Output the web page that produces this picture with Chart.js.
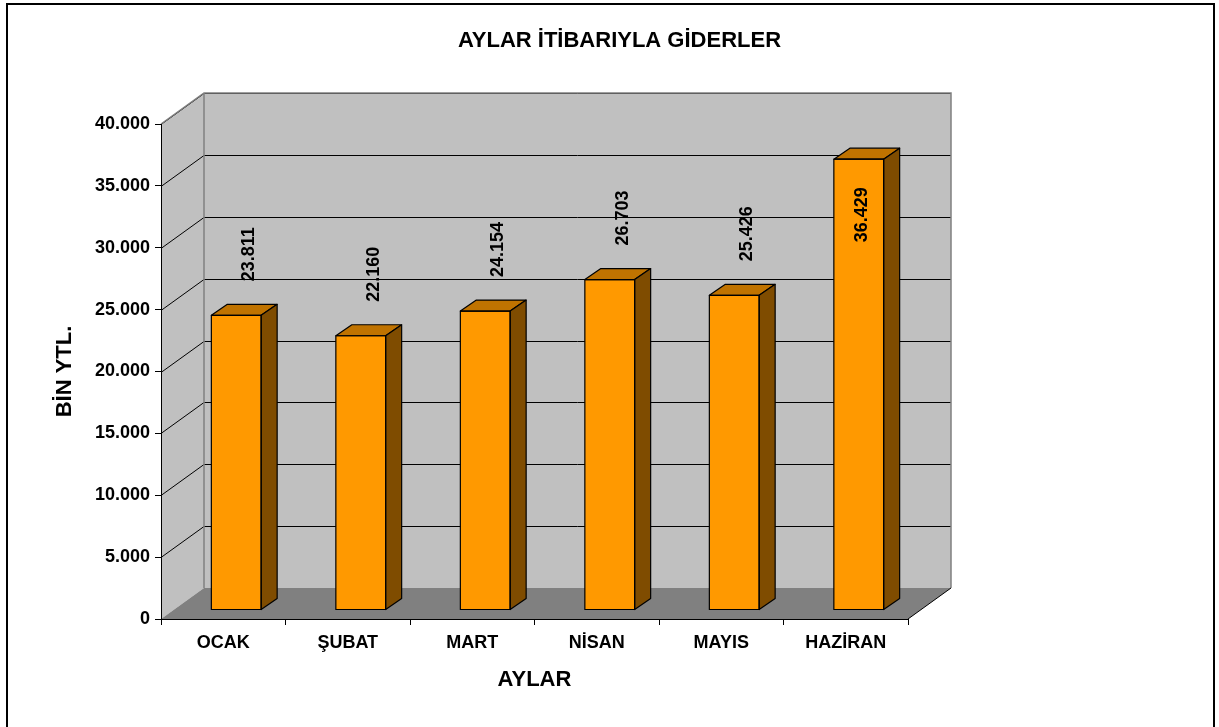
<!DOCTYPE html>
<html lang="tr">
<head>
<meta charset="utf-8">
<title>Aylar İtibarıyla Giderler</title>
<script src="https://cdn.jsdelivr.net/npm/chart.js@4.4.0/dist/chart.umd.min.js"></script>
<style>
  html, body { margin: 0; padding: 0; background: #fff; }
  canvas { display: block; }
</style>
</head>
<body>
<canvas id="chartGider" width="1219" height="727"></canvas>
<script>
// ====== Veri ======
const aylar = ['OCAK', 'ŞUBAT', 'MART', 'NİSAN', 'MAYIS', 'HAZİRAN'];
const giderler = [23811, 22160, 24154, 26703, 25426, 36429];
const eksenMin = 0;
const eksenMax = 40000;
const eksenAdim = 5000;

// ====== Gorunum ======
const FONT = 'Arial, "Liberation Sans", sans-serif';
const DERINLIK = { x: 43, y: -31 };   // duvar / zemin derinligi
const BAR_KAYMA = { x: 13, y: -9 };   // sutun on yuzu kaymasi
const BAR_DERIN = { x: 16, y: -11 };  // sutun kalinligi

// Helper: binlik ayirici nokta
const fmt = (n) => String(n).replace(/\B(?=(\d{3})+(?!\d))/g, '.');

// 3D duvarlar, zemin ve sutun yuzleri
const duvarPlugin = {
    id: 'duvar3d',
    beforeDraw(chart) {
        const { ctx, chartArea: a, scales: { y } } = chart;
        const dx = DERINLIK.x, dy = DERINLIK.y;
        ctx.save();
        ctx.fillStyle = '#fff';
        ctx.fillRect(0, 0, chart.width, chart.height);

        // dis cerceve
        ctx.strokeStyle = '#000';
        ctx.lineWidth = 2;
        ctx.strokeRect(7, 4, 1207, 760);

        // sol duvar
        ctx.fillStyle = '#C0C0C0';
        ctx.beginPath();
        ctx.moveTo(a.left, a.top);
        ctx.lineTo(a.left + dx, a.top + dy);
        ctx.lineTo(a.left + dx, a.bottom + dy);
        ctx.lineTo(a.left, a.bottom);
        ctx.closePath();
        ctx.fill();

        // arka duvar
        ctx.fillRect(a.left + dx, a.top + dy, a.right - a.left, a.bottom - a.top);

        // zemin
        ctx.fillStyle = '#808080';
        ctx.beginPath();
        ctx.moveTo(a.left, a.bottom);
        ctx.lineTo(a.right, a.bottom);
        ctx.lineTo(a.right + dx, a.bottom + dy);
        ctx.lineTo(a.left + dx, a.bottom + dy);
        ctx.closePath();
        ctx.fill();

        // yatay kilavuz cizgileri
        ctx.strokeStyle = '#000';
        ctx.lineWidth = 1;
        y.ticks.forEach(t => {
            if (t.value === eksenMin) return;
            const py = Math.round(y.getPixelForValue(t.value)) + 0.5;
            ctx.beginPath();
            ctx.moveTo(a.left, py);
            ctx.lineTo(a.left + dx, py + dy);
            ctx.lineTo(a.right + dx, py + dy);
            ctx.stroke();
        });

        // duvar kenarlari
        ctx.strokeStyle = '#808080';
        ctx.lineWidth = 1.5;
        ctx.beginPath();
        ctx.moveTo(a.left, a.top);
        ctx.lineTo(a.left + dx, a.top + dy);
        ctx.lineTo(a.right + dx, a.top + dy);
        ctx.lineTo(a.right + dx, a.bottom + dy);
        ctx.moveTo(a.left + dx, a.top + dy);
        ctx.lineTo(a.left + dx, a.bottom + dy);
        ctx.stroke();

        // zemin sag kenari
        ctx.strokeStyle = '#000';
        ctx.lineWidth = 1;
        ctx.beginPath();
        ctx.moveTo(a.right, a.bottom);
        ctx.lineTo(a.right + dx, a.bottom + dy);
        ctx.stroke();
        ctx.restore();
    },
    beforeDatasetsDraw(chart) {
        chart.ctx.save();
        chart.ctx.translate(BAR_KAYMA.x, BAR_KAYMA.y);
    },
    afterDatasetsDraw(chart) {
        const { ctx, chartArea: a } = chart;
        const meta = chart.getDatasetMeta(0);
        const dx = BAR_DERIN.x, dy = BAR_DERIN.y;

        ctx.strokeStyle = '#000';
        ctx.lineWidth = 1.2;
        ctx.lineJoin = 'round';
        meta.data.forEach(bar => {
            const { x, y, base, width } = bar.getProps(['x', 'y', 'base', 'width'], true);
            const l = x - width / 2, r = x + width / 2;

            // ust yuz
            ctx.fillStyle = '#C07300';
            ctx.beginPath();
            ctx.moveTo(l, y);
            ctx.lineTo(l + dx, y + dy);
            ctx.lineTo(r + dx, y + dy);
            ctx.lineTo(r, y);
            ctx.closePath();
            ctx.fill();
            ctx.stroke();

            // yan yuz
            ctx.fillStyle = '#7F4C00';
            ctx.beginPath();
            ctx.moveTo(r, y);
            ctx.lineTo(r + dx, y + dy);
            ctx.lineTo(r + dx, base + dy);
            ctx.lineTo(r, base);
            ctx.closePath();
            ctx.fill();
            ctx.stroke();

            // on yuz cercevesi
            ctx.strokeRect(l, y, width, base - y);
        });
        ctx.restore();

        // veri etiketleri (dikey)
        ctx.save();
        ctx.font = `bold 18px ${FONT}`;
        ctx.fillStyle = '#000';
        ctx.textBaseline = 'middle';
        meta.data.forEach((bar, i) => {
            const txt = fmt(giderler[i]);
            const w = ctx.measureText(txt).width;
            const top = bar.y + BAR_KAYMA.y;
            const cx = bar.x + BAR_KAYMA.x;
            ctx.save();
            if (top - 34 - w < a.top + DERINLIK.y) {
                // sigmazsa sutun icine
                ctx.translate(cx + 3, top + 28);
                ctx.rotate(-Math.PI / 2);
                ctx.textAlign = 'right';
            } else {
                ctx.translate(cx + 13, top - 34);
                ctx.rotate(-Math.PI / 2);
                ctx.textAlign = 'left';
            }
            ctx.fillText(txt, 0, 0);
            ctx.restore();
        });
        ctx.restore();
    }
};

const boldFont = (size) => ({ family: FONT, size: size, weight: 'bold', lineHeight: 1 });

new Chart(document.getElementById('chartGider'), {
    type: 'bar',
    data: {
        labels: aylar,
        datasets: [{
            data: giderler,
            backgroundColor: '#FF9900',
            borderColor: '#000',
            borderWidth: 0,
            borderSkipped: false,
            categoryPercentage: 1,
            barPercentage: 0.4
        }]
    },
    options: {
        responsive: false,
        animation: false,
        devicePixelRatio: 1,
        layout: { padding: { left: 20, right: 0, top: 0, bottom: 0 } },
        plugins: {
            legend: { display: false },
            tooltip: { enabled: false },
            title: {
                display: true,
                text: 'AYLAR İTİBARIYLA GİDERLER',
                color: '#000',
                font: boldFont(22),
                padding: { top: 30, bottom: 72 }
            }
        },
        scales: {
            x: {
                grid: { drawOnChartArea: false, drawTicks: true, tickLength: 6, color: '#000', offset: true },
                border: { display: true, color: '#000', width: 1 },
                ticks: { color: '#000', font: { family: FONT, size: 18, weight: 'bold' }, padding: 7, maxRotation: 0, autoSkip: false },
                title: { display: true, text: 'AYLAR', color: '#000', font: boldFont(22), padding: { top: 0, bottom: 36 } },
                afterFit: (s) => { s.height = 108; }
            },
            y: {
                min: eksenMin,
                max: eksenMax,
                ticks: {
                    stepSize: eksenAdim,
                    callback: (v) => fmt(v),
                    color: '#000',
                    font: { family: FONT, size: 18, weight: 'bold' },
                    padding: 5
                },
                grid: { drawOnChartArea: false, drawTicks: true, tickLength: 6, color: '#000' },
                border: { display: true, color: '#000', width: 1 },
                title: { display: true, text: 'BİN YTL.', color: '#000', font: boldFont(22), padding: { top: 34, bottom: 0 } },
                afterFit: (s) => { s.width = 141; }
            },
            sag: {
                type: 'linear',
                position: 'right',
                display: true,
                grid: { display: false },
                border: { display: false },
                ticks: { display: false },
                afterFit: (s) => { s.width = 311; }
            }
        }
    },
    plugins: [duvarPlugin]
});
</script>
</body>
</html>
